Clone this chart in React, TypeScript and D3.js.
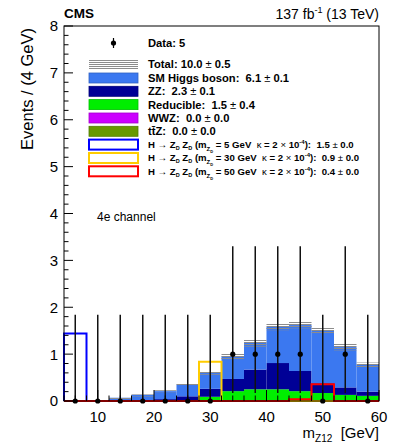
import React from "react";
import * as d3 from "d3";

// bins of m_Z12, 4 GeV wide
const binLow = [4, 8, 12, 16, 20, 24, 28, 32, 36, 40, 44, 48, 52, 56];
const binWidth = 4;

// stacked backgrounds (events per bin)
const ttz = [0, 0, 0, 0, 0, 0, 0, 0, 0, 0, 0, 0, 0, 0];
const wwz = [0, 0, 0, 0, 0, 0, 0, 0, 0, 0, 0, 0, 0, 0];
const reducible = [0, 0, 0, 0, 0.005, 0.01, 0.09, 0.21, 0.25, 0.25, 0.21, 0.17, 0.13, 0.11];
const zz = [0, 0, 0.01, 0.02, 0.035, 0.09, 0.17, 0.26, 0.42, 0.56, 0.43, 0.21, 0.16, 0.09];
const higgs = [0, 0, 0.06, 0.11, 0.17, 0.25, 0.34, 0.48, 0.57, 0.77, 0.98, 1.12, 0.86, 0.57];
const totalUnc = [0, 0, 0.01, 0.01, 0.02, 0.02, 0.04, 0.07, 0.08, 0.07, 0.07, 0.07, 0.07, 0.05];

// signal hypotheses
const sig5 = [1.44, 0, 0, 0, 0, 0, 0, 0, 0, 0, 0, 0, 0, 0];
const sig30 = [0, 0, 0, 0, 0, 0, 0.84, 0, 0, 0, 0, 0, 0, 0];
const sig50 = [0, 0, 0, 0, 0, 0, 0, 0, 0, 0, 0.04, 0.36, 0, 0];

// observed data with Poisson intervals
const dataCounts = [0, 0, 0, 0, 0, 0, 0, 1, 1, 1, 1, 0, 1, 0];
const dataLow = [0, 0, 0, 0, 0, 0, 0, 0.17, 0.17, 0.17, 0.17, 0, 0.17, 0];
const dataHigh = [1.84, 1.84, 1.84, 1.84, 1.84, 1.84, 1.84, 3.3, 3.3, 3.3, 3.3, 1.84, 3.3, 1.84];

const xTicks = [10, 20, 30, 40, 50, 60];
const yTicks = [0, 1, 2, 3, 4, 5, 6, 7, 8];

const colors = {
  higgs: "#3b78f0",
  zz: "#000096",
  reducible: "#00ee00",
  wwz: "#cc00ff",
  ttz: "#669900",
};

const W = 399;
const H = 446;
const m = { left: 64, right: 20, top: 26, bottom: 45 };
const font = "'Liberation Sans', Arial, Helvetica, sans-serif";
const lfs = 11.2;
const pre = { whiteSpace: "pre" } as React.CSSProperties;

const App = () => {
  const x = d3.scaleLinear().domain([4, 60]).range([m.left, W - m.right]);
  const y = d3.scaleLinear().domain([0, 8]).range([H - m.bottom, m.top]);

  const rows = binLow.map((lo, i) => ({
    lo,
    ttz: ttz[i],
    wwz: wwz[i],
    reducible: reducible[i],
    zz: zz[i],
    higgs: higgs[i],
  }));
  const keys = ["ttz", "wwz", "reducible", "zz", "higgs"];
  const stacked = d3.stack().keys(keys)(rows as any);
  const totals = rows.map((r) => r.ttz + r.wwz + r.reducible + r.zz + r.higgs);

  const histLine = d3
    .line<[number, number]>()
    .x((d) => x(d[0]))
    .y((d) => y(d[1]));
  const histPath = (vals: number[]) => {
    const pts: [number, number][] = [[4, 0]];
    vals.forEach((v, i) => {
      pts.push([binLow[i], v]);
      pts.push([binLow[i] + binWidth, v]);
    });
    pts.push([60, 0]);
    return histLine(pts);
  };

  const minorY = d3.range(0, 8.001, 0.2);
  const minorX = d3.range(4, 60.001, 2);

  // legend
  const lx = 89;
  const lw = 49;
  const tx = 148;
  const legendRows = [
    { y: 64.5, kind: "hatch", label: "Total: 10.0 ± 0.5" },
    { y: 78, kind: "fill", color: colors.higgs, label: "SM Higgs boson:  6.1 ± 0.1" },
    { y: 91.3, kind: "fill", color: colors.zz, label: "ZZ:  2.3 ± 0.1" },
    { y: 104.6, kind: "fill", color: colors.reducible, label: "Reducible:  1.5 ± 0.4" },
    { y: 118, kind: "fill", color: colors.wwz, label: "WWZ:  0.0 ± 0.0" },
    { y: 131.3, kind: "fill", color: colors.ttz, label: "ttZ" },
  ];
  const sigRows = [
    { y: 144.6, color: "#0000ff", mass: "5", val: "1.5 ± 0.0" },
    { y: 158, color: "#ffcc00", mass: "30", val: "0.9 ± 0.0" },
    { y: 171.3, color: "#ff0000", mass: "50", val: "0.4 ± 0.0" },
  ];

  return (
    <svg width={W} height={H} style={{ display: "block", position: "absolute", left: 0, top: 0 }} fontFamily={font}>
      <defs>
        <pattern id="hatch" width="3" height="2" patternUnits="userSpaceOnUse">
          <line x1="0" y1="0.5" x2="3" y2="0.5" stroke="#8c8c8c" strokeWidth="1" />
        </pattern>
      </defs>
      <rect width={W} height={H} fill="#fff" />

      {/* stacked backgrounds */}
      {stacked.map((layer: any) => (
        <g key={layer.key} fill={(colors as any)[layer.key]}>
          {layer.map((d: any, i: number) =>
            d[1] - d[0] > 0 ? (
              <rect
                key={i}
                x={x(binLow[i])}
                width={x(binLow[i] + binWidth) - x(binLow[i])}
                y={y(d[1])}
                height={y(d[0]) - y(d[1])}
              />
            ) : null
          )}
        </g>
      ))}

      {/* total uncertainty band */}
      {totals.map((t, i) =>
        t > 0 ? (
          <rect
            key={i}
            x={x(binLow[i])}
            width={x(binLow[i] + binWidth) - x(binLow[i])}
            y={y(t + totalUnc[i])}
            height={Math.max(2, y(t - totalUnc[i]) - y(t + totalUnc[i]))}
            fill="url(#hatch)"
          />
        ) : null
      )}

      {/* signals */}
      <path d={histPath(sig5) || ""} fill="none" stroke="#0000ff" strokeWidth={2} />
      <path d={histPath(sig30) || ""} fill="none" stroke="#ffcc00" strokeWidth={2} />
      <path d={histPath(sig50) || ""} fill="none" stroke="#ff0000" strokeWidth={2} />

      {/* data */}
      {dataCounts.map((c, i) => {
        const cx = x(binLow[i] + binWidth / 2);
        return (
          <g key={i}>
            <line x1={cx} x2={cx} y1={y(dataLow[i])} y2={y(dataHigh[i])} stroke="#111" strokeWidth={1.5} />
            <circle cx={cx} cy={y(c)} r={2.6} fill="#000" />
          </g>
        );
      })}

      {/* frame and axes */}
      <rect
        x={m.left}
        y={m.top}
        width={W - m.left - m.right}
        height={H - m.top - m.bottom}
        fill="none"
        stroke="#000"
        strokeWidth={1}
      />
      {minorY.map((v) => {
        const major = Math.abs(v - Math.round(v)) < 1e-6;
        return (
          <line key={v} x1={m.left} x2={m.left + (major ? 9 : 4.5)} y1={y(v)} y2={y(v)} stroke="#000" />
        );
      })}
      {minorX.map((v) => {
        const major = v % 10 === 0;
        return (
          <line key={v} x1={x(v)} x2={x(v)} y1={y(0)} y2={y(0) - (major ? 11 : 5.5)} stroke="#000" />
        );
      })}
      {yTicks.map((v) => (
        <text key={v} x={m.left - 6} y={y(v)} dy="0.36em" textAnchor="end" fontSize={15}>
          {v}
        </text>
      ))}
      {xTicks.map((v) => (
        <text key={v} x={x(v)} y={H - m.bottom + 21} textAnchor="middle" fontSize={15}>
          {v}
        </text>
      ))}
      <text
        transform={`translate(33,${m.top + 2}) rotate(-90)`}
        textAnchor="end"
        fontSize={16.5}
      >
        Events / (4 GeV)
      </text>
      <text x={W - m.right} y={438} textAnchor="end" fontSize={15} style={pre}>
        m<tspan fontSize={10} dy={4}>Z12</tspan>
        <tspan dy={-4}>{"  [GeV]"}</tspan>
      </text>

      {/* header */}
      <text x={m.left} y={18} fontSize={13.5} fontWeight="bold">
        CMS
      </text>
      <text x={W - m.right} y={19} textAnchor="end" fontSize={14} style={pre}>
        137 fb<tspan fontSize={9} dy={-6}>-1</tspan>
        <tspan dy={6}>{" (13 TeV)"}</tspan>
      </text>

      <text x={97} y={221} fontSize={12}>
        4e channel
      </text>

      {/* legend */}
      <line x1={lx + lw / 2} x2={lx + lw / 2} y1={38} y2={48} stroke="#000" strokeWidth={1.2} />
      <circle cx={lx + lw / 2} cy={43} r={2.6} fill="#000" />
      <text x={tx} y={43} dy="0.35em" fontSize={lfs} fontWeight="bold">
        Data: 5
      </text>
      {legendRows.map((r) => (
        <g key={r.label}>
          {r.kind === "hatch" ? (
            <rect x={lx} y={r.y - 5} width={lw} height={10} fill="url(#hatch)" />
          ) : (
            <rect
              x={lx}
              y={r.y - 5}
              width={lw}
              height={10}
              fill={r.color}
              stroke={d3.color(r.color as string)!.darker(0.6).toString()}
              strokeWidth={0.8}
            />
          )}
          {r.label === "ttZ" ? (
            <text x={tx} y={r.y} dy="0.35em" fontSize={lfs} fontWeight="bold" style={pre}>
              {"tt̄Z:  0.0 "}
              <tspan fontWeight="normal">±</tspan>
              {" 0.0"}
            </text>
          ) : (
            <text x={tx} y={r.y} dy="0.35em" fontSize={lfs} fontWeight="bold" style={pre}>
              {r.label.split("±")[0]}
              <tspan fontWeight="normal">±</tspan>
              {r.label.split("±")[1]}
            </text>
          )}
        </g>
      ))}
      {sigRows.map((r) => (
        <g key={r.mass}>
          <rect x={lx} y={r.y - 5} width={lw} height={10} fill="#fff" stroke={r.color} strokeWidth={2} />
          <text x={tx} y={r.y} dy="0.35em" fontSize={9.6} fontWeight="bold" style={pre}>
            {"H "}
            <tspan fontWeight="normal">→</tspan>
            {" Z"}
            <tspan fontSize={5.5} dy={2}>D</tspan>
            <tspan dy={-2}>{" Z"}</tspan>
            <tspan fontSize={5.5} dy={2}>D</tspan>
            <tspan dy={-2}>{" (m"}</tspan>
            <tspan fontSize={6} dy={3}>Z</tspan>
            <tspan fontSize={4} dy={2}>D</tspan>
            <tspan dy={-5}>{` = ${r.mass} GeV  `}</tspan>
            <tspan fontWeight="normal">κ</tspan>
            <tspan>{" = 2 "}</tspan>
            <tspan fontWeight="normal">×</tspan>
            <tspan>{" 10"}</tspan>
            <tspan fontSize={6} dy={-4}>-4</tspan>
            <tspan dy={4}>{`):  ${r.val.split("±")[0]}`}</tspan>
            <tspan fontWeight="normal">±</tspan>
            <tspan>{r.val.split("±")[1]}</tspan>
          </text>
        </g>
      ))}
    </svg>
  );
};

export default App;
